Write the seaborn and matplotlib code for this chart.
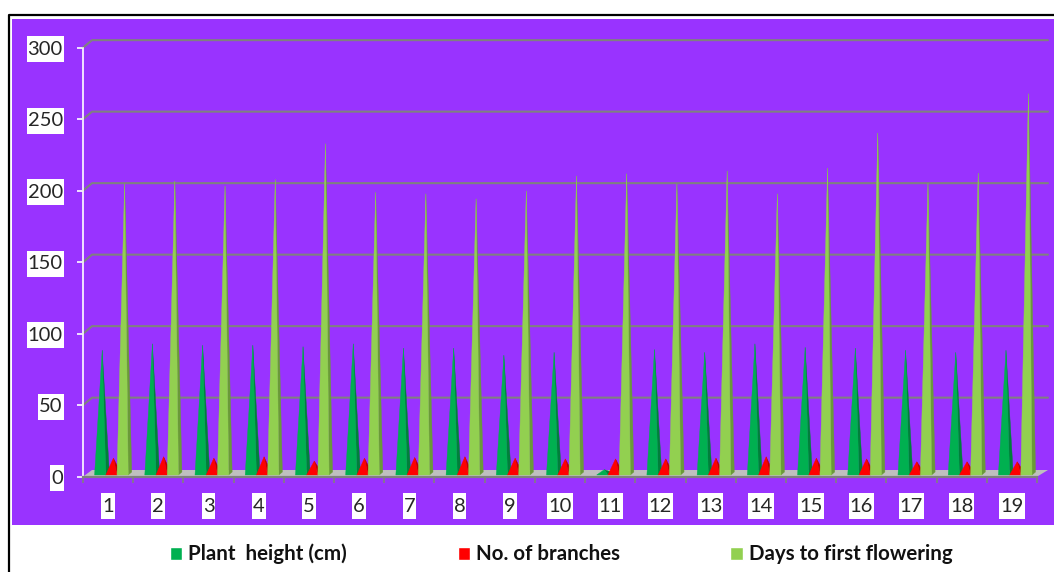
# Import libraries
import numpy as np
import pandas as pd
import matplotlib
matplotlib.use("Agg")
import matplotlib.pyplot as plt
import seaborn as sns
from matplotlib.patches import Polygon, Rectangle
from matplotlib.lines import Line2D
from matplotlib.path import Path

# -------------------------------
# Data
# -------------------------------
genotypes = [str(i) for i in range(1, 20)]
plant_height = [86.5, 91, 90, 90, 89, 91, 88, 88, 83, 85, 3, 87, 85, 91, 88.5, 88, 86.5, 85, 86.5]
branches = [11, 12, 11, 12, 9, 11, 11.5, 12, 11, 10.5, 10.5, 10.5, 11, 12, 11, 10.5, 8.5, 8.5, 8.5]
days_flowering = [203, 205, 201.5, 206, 231, 197, 196, 192.5, 198, 208.5, 210, 203, 212, 196,
                  214, 238.5, 203.5, 210.5, 266]

series_names = ["Plant  height (cm)", "No. of branches", "Days to first flowering"]
series_colors = ["#00B050", "#FF0000", "#92D050"]
side_colors = ["#00803A", "#C00000", "#6A9A38"]
y_ticks = [0, 50, 100, 150, 200, 250, 300]

data = pd.DataFrame({
    "Genotype": genotypes,
    series_names[0]: plant_height,
    series_names[1]: branches,
    series_names[2]: days_flowering,
}).melt(id_vars="Genotype", var_name="Trait", value_name="Value")

# -------------------------------
# Figure and panel
# -------------------------------
W, H = 1054, 572
sns.set_theme(style="white")
plt.rcParams["font.family"] = ["Lato", "DejaVu Sans"]

fig = plt.figure(figsize=(W / 100, H / 100), dpi=100, facecolor="white")


def fig_box(x0, y0, x1, y1):
    return x0 / W, 1 - y1 / H, (x1 - x0) / W, (y1 - y0) / H


# white label box: tight at the sides, tall above and below
def label_box(x0, y0, width, height, mutation_size):
    cy = y0 + height / 2
    left, right = x0 - 1, x0 + width + 1
    low, high = cy - 13, cy + 13
    return Path([(left, low), (right, low), (right, high), (left, high), (left, low)], closed=True)


PURPLE = "#9933FF"
GRID = "#808080"
x0, y0, bw, bh = fig_box(12, 19, 1054, 525)
fig.add_artist(Rectangle((x0, y0), bw, bh, transform=fig.transFigure, fc=PURPLE, ec="none", zorder=-2))
fig.add_artist(Line2D([8.5 / W, 8.5 / W, 1], [0, 1 - 14.5 / H, 1 - 14.5 / H],
                      transform=fig.transFigure, color="black", lw=1.6, zorder=-1))

ax = fig.add_axes(fig_box(83, 47.7, 1037, 476.7))
ax.patch.set_visible(False)

# -------------------------------
# Bars, only used for scale and legend, cones are built from them
# -------------------------------
sns.barplot(data=data, x="Genotype", y="Value", hue="Trait", hue_order=series_names,
            palette=series_colors, saturation=1, width=0.67, gap=0, ax=ax, errorbar=None)
ax.set_xlim(-0.5, 18.5)
ax.set_ylim(0, 300)
ax.set_xlabel("")
ax.set_ylabel("")

sns.move_legend(ax, "center left", bbox_to_anchor=(170 / W, 1 - 554 / H),
                bbox_transform=fig.transFigure, ncols=3, title=None, frameon=False,
                prop={"weight": "bold", "size": 14.75},
                handlelength=0.6, handleheight=0.6, handletextpad=0.29,
                columnspacing=5.4, borderpad=0, borderaxespad=0)
for t in ax.get_legend().get_texts():
    t.set_color("#111111")

px_x = 19 / (1037 - 83)   # one pixel in category units
px_y = 300 / (476.7 - 47.7)  # one pixel in value units

# -------------------------------
# Floor and back grid
# -------------------------------
back_dx = 9 * px_x
back_dy = 6.7 * px_y
right_back = -0.5 + (1048 - 83) * px_x
ax.add_patch(Polygon([(-0.5, 0), (-0.5 + back_dx, back_dy), (right_back, back_dy), (18.5, 0)],
                     closed=True, fc="#BFBFBF", ec="none", clip_on=False, zorder=1))
for v in y_ticks[1:]:
    ax.plot([-0.5, -0.5 + back_dx, right_back], [v, v + back_dy + 0.6, v + back_dy + 0.6],
            color=GRID, lw=1.5, clip_on=False, zorder=1)

# -------------------------------
# Cones from the bar heights
# -------------------------------
for container, side in zip(ax.containers, side_colors):
    color = container.patches[0].get_facecolor()
    for bar in container.patches:
        left = bar.get_x() + 3.3 * px_x
        right = left + bar.get_width()
        apex_x = (left + right) / 2 + 2 * px_x
        apex_y = bar.get_height() + 1.9
        base = 1.2
        ax.add_patch(Polygon([(right, base), (apex_x, apex_y), (right + 3.5 * px_x, base + 3 * px_y)],
                             closed=True, fc=side, ec=side, lw=0.3, clip_on=False, zorder=3))
        ax.add_patch(Polygon([(left, base), (apex_x, apex_y), (right, base)],
                             closed=True, fc=color, ec=color, lw=0.3, clip_on=False, zorder=3))
        bar.set_visible(False)

# -------------------------------
# Axes look
# -------------------------------
sns.despine(ax=ax, top=True, right=True, bottom=False, left=False)
ax.spines["left"].set_color("white")
ax.spines["left"].set_linewidth(1.2)
ax.spines["bottom"].set_color("#808080")
ax.spines["bottom"].set_linewidth(1.6)

ax.set_yticks(y_ticks)
ax.tick_params(axis="y", length=4.5, width=1.2, color="white", left=True, pad=10,
               labelsize=14.5, labelcolor="#262626")
ax.set_xticks(range(19), genotypes)
ax.set_xticks(np.arange(-0.5, 19), minor=True)
ax.tick_params(axis="x", which="major", length=0, bottom=False, pad=15,
               labelsize=14.5, labelcolor="#262626")
ax.tick_params(axis="x", which="minor", length=4.5, width=1.2, color="#808080", bottom=True)

for lab in ax.get_yticklabels() + ax.get_xticklabels():
    lab.set_bbox(dict(facecolor="white", edgecolor="none", pad=0))
    lab.get_bbox_patch().set_boxstyle(label_box)

fig.savefig("out.png", dpi=100)
